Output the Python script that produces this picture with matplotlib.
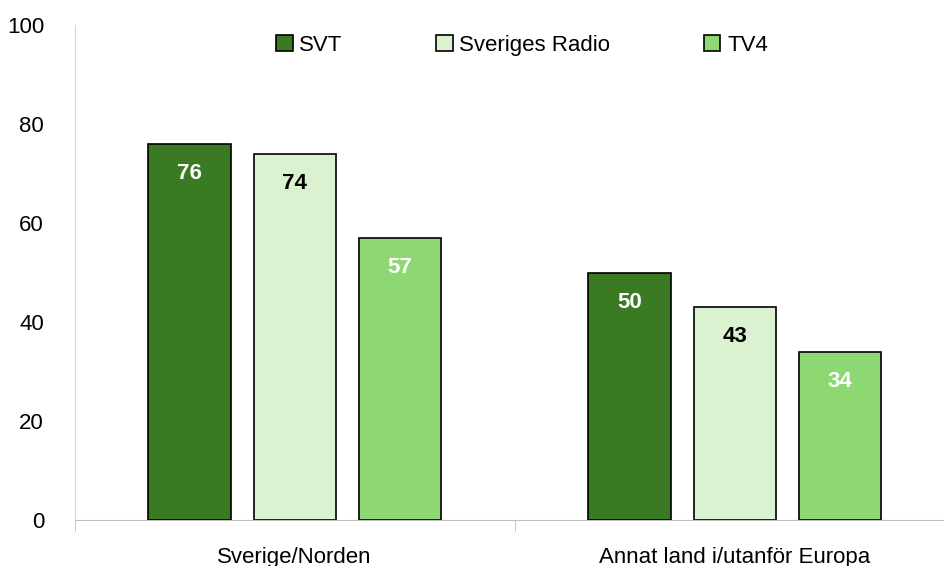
import numpy as np
import matplotlib.pyplot as plt

# Data
categories = ['Sverige/Norden', 'Annat land i/utanför Europa']
series_names = ['SVT', 'Sveriges Radio', 'TV4']
svt = [76, 50]
sveriges_radio = [74, 43]
tv4 = [57, 34]

colors = ['#3A7A23', '#DAF2D0', '#8ED873']
label_colors = ['white', 'black', 'white']

plt.rcParams['font.family'] = ['Liberation Sans', 'DejaVu Sans']

fig = plt.figure(figsize=(9.45, 5.66), dpi=100)
ax = fig.add_axes([0.079, 0.081, 0.921, 0.875])

x = np.arange(len(categories))
width = 0.187
step = 0.239

for i, (vals, name) in enumerate(zip([svt, sveriges_radio, tv4], series_names)):
    pos = x + (i - 1) * step
    bars = ax.bar(pos, vals, width, color=colors[i], edgecolor='black',
                  linewidth=1.2, label=name, zorder=3)
    for b, v in zip(bars, vals):
        ax.text(b.get_x() + b.get_width() / 2, v - 6, str(v),
                ha='center', va='center', fontsize=16, fontweight='bold',
                color=label_colors[i], zorder=4)

ax.set_xlim(-0.5, 1.478)
ax.set_ylim(0, 100)
ax.set_yticks(range(0, 101, 20))
ax.set_xticks(x)
ax.set_xticklabels(categories)
ax.set_xticks([-0.5, 0.5], minor=True)
ax.tick_params(axis='x', which='major', length=0, pad=19, labelsize=16)
ax.tick_params(axis='x', which='minor', length=8, color='#BFBFBF')
ax.tick_params(axis='y', length=0, pad=22, labelsize=16)

for side in ['top', 'right']:
    ax.spines[side].set_visible(False)
ax.spines['left'].set_color('#D9D9D9')
ax.spines['bottom'].set_color('#BFBFBF')

ax.legend(loc='upper center', bbox_to_anchor=(0.514, 1.02), ncol=3,
          frameon=False, fontsize=16, handlelength=0.75, handleheight=0.75,
          handletextpad=0.3, columnspacing=4.2)

fig.savefig('out.png', dpi=100)
